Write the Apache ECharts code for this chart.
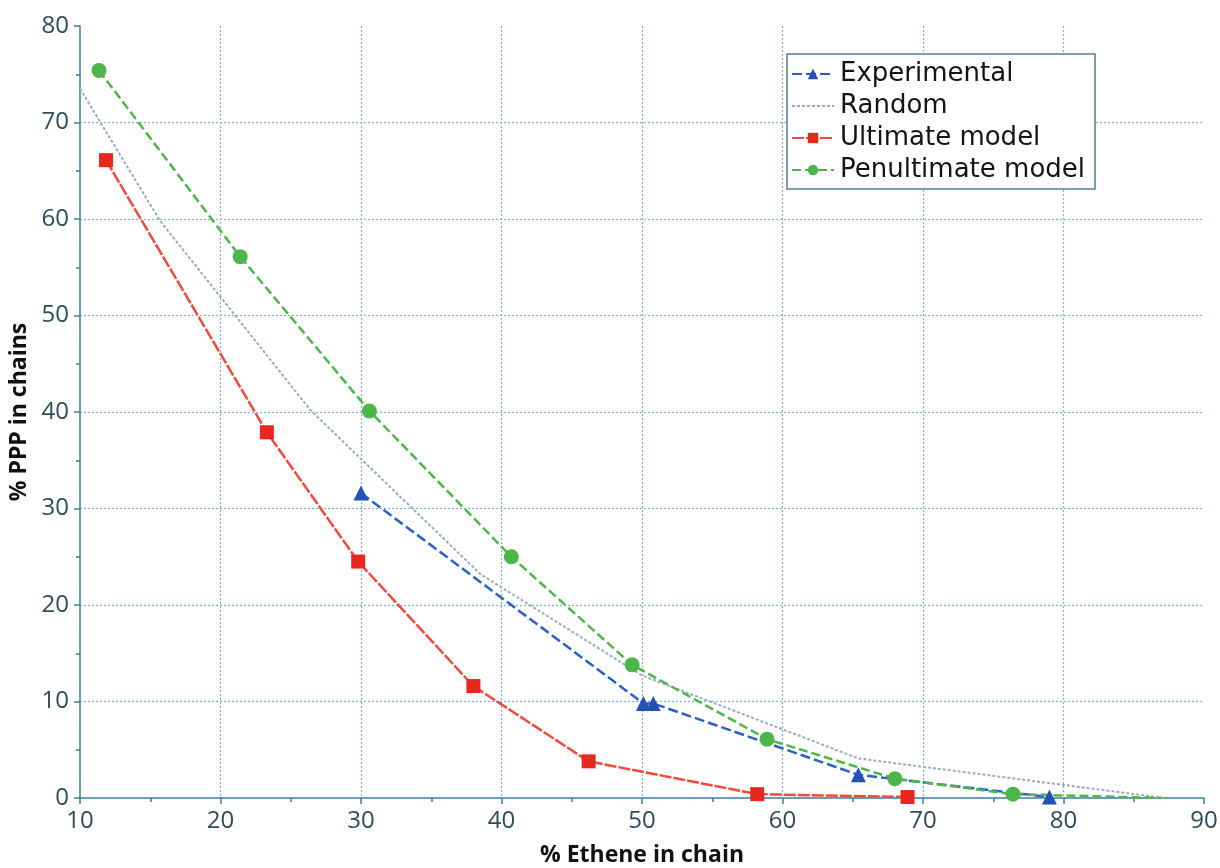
<!DOCTYPE html>
<html>
<head>
<meta charset="utf-8">
<script src="https://cdn.jsdelivr.net/npm/echarts@6/dist/echarts.min.js"></script>
<style>
  html, body { margin: 0; padding: 0; background: #fff; }
  #chart { width: 1220px; height: 868px; }
</style>
</head>
<body>
<div id="chart"></div>
<script>
// % ethene in chain (x) vs % PPP triads in chains (y)
const experimental = [[30.0, 31.6], [50.1, 9.8], [50.8, 9.8], [65.4, 2.4], [79.0, 0.1]];
const random = [[10.0, 73.5], [15.7, 59.8], [26.4, 40.2], [38.5, 23.2], [50.0, 12.7], [65.4, 4.1], [87.2, 0.0]];
const ultimate = [[11.85, 66.1], [23.3, 37.9], [29.8, 24.5], [38.0, 11.6], [46.2, 3.8], [58.2, 0.4], [68.9, 0.1]];
const penultimate = [[11.35, 75.4], [21.4, 56.1], [30.6, 40.1], [40.7, 25.0], [49.3, 13.8], [58.9, 6.1], [68.0, 2.0], [76.4, 0.4], [87.0, 0.0]];
const xTicks = [10, 20, 30, 40, 50, 60, 70, 80, 90];
const yTicks = [0, 10, 20, 30, 40, 50, 60, 70, 80];

const FONT = '"Open Sans", "DejaVu Sans", sans-serif';
const LEGEND_FONT = '"DejaVu Sans", "Open Sans", sans-serif';
const AXIS_COLOR = '#3d7d9c';
const GRID_COLOR = '#7fb1d0';
const LABEL_COLOR = '#2e4b5c';

const chart = echarts.init(document.getElementById('chart'), null, { renderer: 'canvas' });

function axisBase(ticks, name) {
  return {
    type: 'value',
    min: ticks[0],
    max: ticks[ticks.length - 1],
    interval: ticks[1] - ticks[0],
    name: name,
    nameLocation: 'middle',
    nameTextStyle: { fontFamily: FONT, fontSize: 23, fontWeight: 'bold', color: '#111' },
    axisLine: { show: true, onZero: false, lineStyle: { color: AXIS_COLOR, width: 1.5 } },
    axisTick: { show: true, inside: false, length: 6, lineStyle: { color: AXIS_COLOR, width: 1.5 } },
    minorTick: { show: true, splitNumber: 2, length: 4, lineStyle: { color: AXIS_COLOR, width: 1.5 } },
    axisLabel: { fontFamily: FONT, fontSize: 24, color: LABEL_COLOR, margin: 10 },
    splitLine: {
      show: true, showMinLine: false, showMaxLine: false,
      lineStyle: { color: GRID_COLOR, type: [2, 2], width: 1.2 }
    }
  };
}

const xAxis = axisBase(xTicks, '% Ethene in chain');
xAxis.nameGap = 46;
xAxis.axisLabel.margin = 11;
xAxis.axisLabel.hideOverlap = false;
const yAxis = axisBase(yTicks, '% PPP in chains');
yAxis.nameGap = 43;
yAxis.axisLabel.margin = 11;

function lineSeries(name, data, color, symbol, size, dash) {
  return {
    name: name,
    type: 'line',
    data: data,
    symbol: symbol,
    symbolSize: size,
    showSymbol: true,
    color: color,
    itemStyle: { color: color },
    lineStyle: { color: color, width: 2.5, type: dash },
    animation: false,
    z: 3
  };
}

const penSeries = lineSeries('Penultimate model',
  penultimate.map((p, i) => i === penultimate.length - 1 ? { value: p, symbol: 'none' } : p),
  '#4cb748', 'circle', 15, [9, 4]);
const ultSeries = lineSeries('Ultimate model', ultimate, '#ef4a3c', 'rect', 14, [12, 2]);
ultSeries.itemStyle = { color: '#e8281e' };
const expSeries = lineSeries('Experimental', experimental, '#2a5fc4', 'triangle', 15, [10, 4]);
expSeries.itemStyle = { color: '#2550b8' };
const randSeries = {
  name: 'Random',
  type: 'line',
  data: random,
  symbol: 'none',
  showSymbol: false,
  color: '#98acbe',
  lineStyle: { color: '#98acbe', width: 2, type: [3, 2] },
  animation: false,
  z: 2
};

chart.setOption({
  backgroundColor: '#ffffff',
  animation: false,
  grid: { left: 80, right: 16, top: 26, bottom: 70, containLabel: false, outerBoundsMode: 'none' },
  xAxis: xAxis,
  yAxis: yAxis,
  legend: {
    show: true,
    orient: 'vertical',
    left: 787,
    top: 54,
    padding: [5, 10, 4, 4],
    backgroundColor: '#ffffff',
    borderColor: '#4f7f94',
    borderWidth: 1.5,
    borderRadius: 0,
    itemWidth: 42,
    itemHeight: 13,
    itemGap: 2,
    selectedMode: false,
    data: [
      'Experimental',
      { name: 'Random', itemStyle: { opacity: 0 } },
      'Ultimate model',
      'Penultimate model'
    ],
    textStyle: { fontFamily: LEGEND_FONT, fontSize: 26, color: '#141414', lineHeight: 30, padding: [0, 0, 0, 1] }
  },
  series: [randSeries, ultSeries, expSeries, penSeries]
});
</script>
</body>
</html>
